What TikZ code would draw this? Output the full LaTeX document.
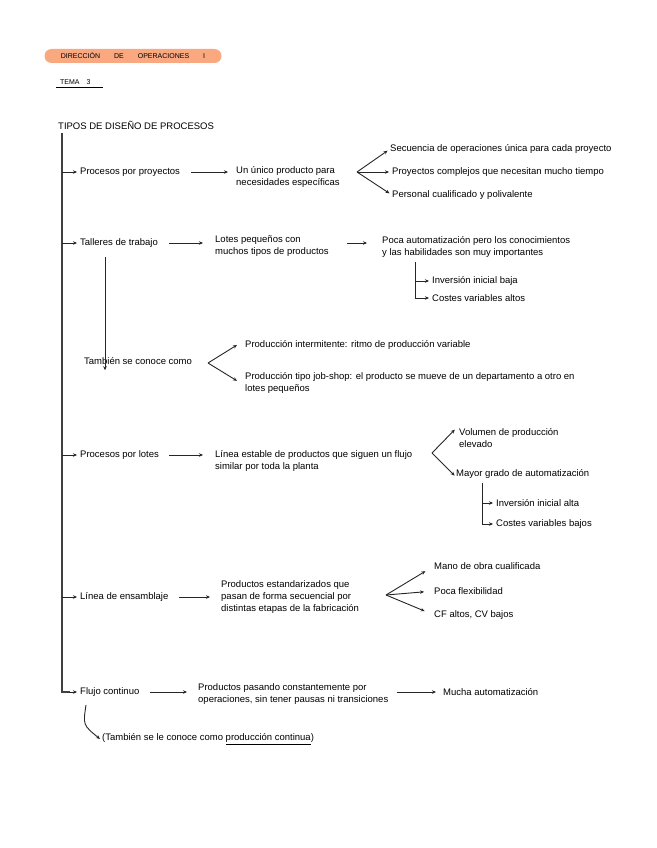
\documentclass[tikz,border=0pt]{standalone}
\usepackage{fontspec}
\setmainfont{Liberation Sans}
\usetikzlibrary{positioning,arrows.meta}
\definecolor{pillorange}{RGB}{250,168,128}
\tikzset{
  txt/.style = {anchor = west, inner sep = 0pt, align = left, font = {\fontsize{9.5}{12}\selectfont}},
  arr/.style = {-{Stealth[length = 4pt, width = 3.5pt]}, line width = 0.9pt, black!85},
  spine/.style = {line width = 1.6pt, black!75},
}
\begin{document}
\begin{tikzpicture}[x = 1pt, y = -1pt]
        \useasboundingbox (0,0) rectangle (656,848);
        % cabecera
        \node[fill = pillorange, rounded corners = 7pt, minimum width = 177pt, minimum height = 14pt, inner sep = 0pt,
              font = {\fontsize{7}{8}\selectfont}] (pill) at (133,56) {DIRECCIÓN\qquad DE\qquad OPERACIONES\qquad I};
        \node[txt, font = {\fontsize{7}{8}\selectfont}] (tema) at (60,82) {TEMA\quad 3};
        \draw[line width = 0.8pt] (56,87) -- (103,87);
        \node[txt] (titulo) at (58,125) {TIPOS DE DISEÑO DE PROCESOS};
        \coordinate (top) at (62,133);

        % procesos por proyectos
        \node[txt] (proy) at (80,172) {Procesos por proyectos};
        \node[txt] (unico) at (236,177) {Un único producto para\\necesidades específicas};
        \coordinate (fan1) at (357,172);
        \node[txt] (sec) at (390,149) {Secuencia de operaciones única para cada proyecto};
        \node[txt] (comp) at (392,172) {Proyectos complejos que necesitan mucho tiempo};
        \node[txt] (pers) at (392,195) {Personal cualificado y polivalente};

        % talleres de trabajo
        \node[txt] (tall) at (80,243) {Talleres de trabajo};
        \node[txt] (lotes) at (215,246.5) {Lotes pequeños con\\muchos tipos de productos};
        \node[txt] (poca) at (382,247) {Poca automatización pero los conocimientos\\y las habilidades son muy importantes};
        \coordinate (br1) at (415,262);
        \node[txt] (inv1) at (432,281) {Inversión inicial baja};
        \node[txt] (cos1) at (432,298) {Costes variables altos};
        \coordinate (tb) at (105,257);
        \node[txt] (tamb) at (84,361) {También se conoce como};
        \coordinate (fan2) at (208,363);
        \node[txt] (inter) at (245,345) {Producción intermitente: ritmo de producción variable};
        \node[txt] (job) at (245,382.5) {Producción tipo job-shop: el producto se mueve de un departamento a otro en\\lotes pequeños};

        % procesos por lotes
        \node[txt] (lot) at (80,455) {Procesos por lotes};
        \node[txt] (linea) at (215,461) {Línea estable de productos que siguen un flujo\\similar por toda la planta};
        \coordinate (fan3) at (432,453);
        \node[txt] (vol) at (459,438) {Volumen de producción\\elevado};
        \node[txt] (mayor) at (456,474) {Mayor grado de automatización};
        \coordinate (br2) at (482,483);
        \node[txt] (inv2) at (496,503) {Inversión inicial alta};
        \node[txt] (cos2) at (496,524) {Costes variables bajos};

        % linea de ensamblaje
        \node[txt] (ens) at (80,597) {Línea de ensamblaje};
        \node[txt] (estand) at (221,597) {Productos estandarizados que\\pasan de forma secuencial por\\distintas etapas de la fabricación};
        \coordinate (fan4) at (386,595);
        \node[txt] (mano) at (434,566) {Mano de obra cualificada};
        \node[txt] (flex) at (434,591) {Poca flexibilidad};
        \node[txt] (cf) at (434,615) {CF altos, CV bajos};

        % flujo continuo
        \node[txt] (flujo) at (80,692) {Flujo continuo};
        \node[txt] (pasando) at (198,694.5) {Productos pasando constantemente por\\operaciones, sin tener pausas ni transiciones};
        \node[txt] (mucha) at (443,692) {Mucha automatización};
        \coordinate (cv) at (86,705);
        \node[txt] (tamb2) at (102,739) {(También se le conoce como \underline{producción continua})};

        % eje principal
        \draw[spine] (top) -- (top |- flujo) -- ++(8,0);
        \draw[arr] ([xshift = 7pt]top |- flujo) -- ([xshift = -3pt]flujo.west);
        \foreach \n in {proy,tall,lot,ens}
            \draw[arr] (top |- \n.west) -- ([xshift = -3pt]\n.west);

        % flechas horizontales
        \draw[arr] ([xshift = 11pt]proy.east) -- ([xshift = -8pt]unico.west |- proy);
        \draw[arr] ([xshift = 11pt]tall.east) -- ([xshift = -12pt]lotes.west |- tall);
        \draw[arr] ([xshift = -35pt]poca.west |- tall) -- ([xshift = -15pt]poca.west |- tall);
        \draw[arr] ([xshift = 10pt]lot.east) -- ([xshift = -12pt]linea.west |- lot);
        \draw[arr] ([xshift = 10pt]ens.east) -- ([xshift = -11pt]estand.west);
        \draw[arr] ([xshift = 10pt]flujo.east) -- ([xshift = -11pt]pasando.west |- flujo);
        \draw[arr] ([xshift = 8pt]pasando.east |- mucha) -- ([xshift = -7pt]mucha.west);

        % abanicos
        \foreach \n in {sec,comp,pers}
            \draw[arr, shorten > = 3pt] (fan1) -- (\n.west);
        \draw[arr] (fan2) -- ([xshift = -8pt]inter.west);
        \draw[arr] (fan2) -- ([xshift = -8pt, yshift = -9pt]job.north west);
        \draw[arr, shorten > = 6pt] (fan3) -- ([yshift = 3pt]vol.north west);
        \draw[arr, shorten > = 2pt] (fan3) -- ([yshift = -3pt]mayor.west);
        \foreach \n in {mano,flex,cf}
            \draw[arr, shorten > = 10pt] (fan4) -- (\n.west);

        % llaves
        \draw[arr] (br1) |- ([xshift = -3pt]cos1.west);
        \draw[arr] (br1 |- inv1) -- ([xshift = -3pt]inv1.west);
        \draw[arr] (br2) |- ([xshift = -3pt]cos2.west);
        \draw[arr] (br2 |- inv2) -- ([xshift = -3pt]inv2.west);

        % tambien se conoce como
        \draw[arr] (tb) -- ([yshift = -13pt]tamb.north -| tb);
        \draw[arr] (cv) .. controls (83,725) .. ([xshift = -2pt]tamb2.west);
\end{tikzpicture}
\end{document}
